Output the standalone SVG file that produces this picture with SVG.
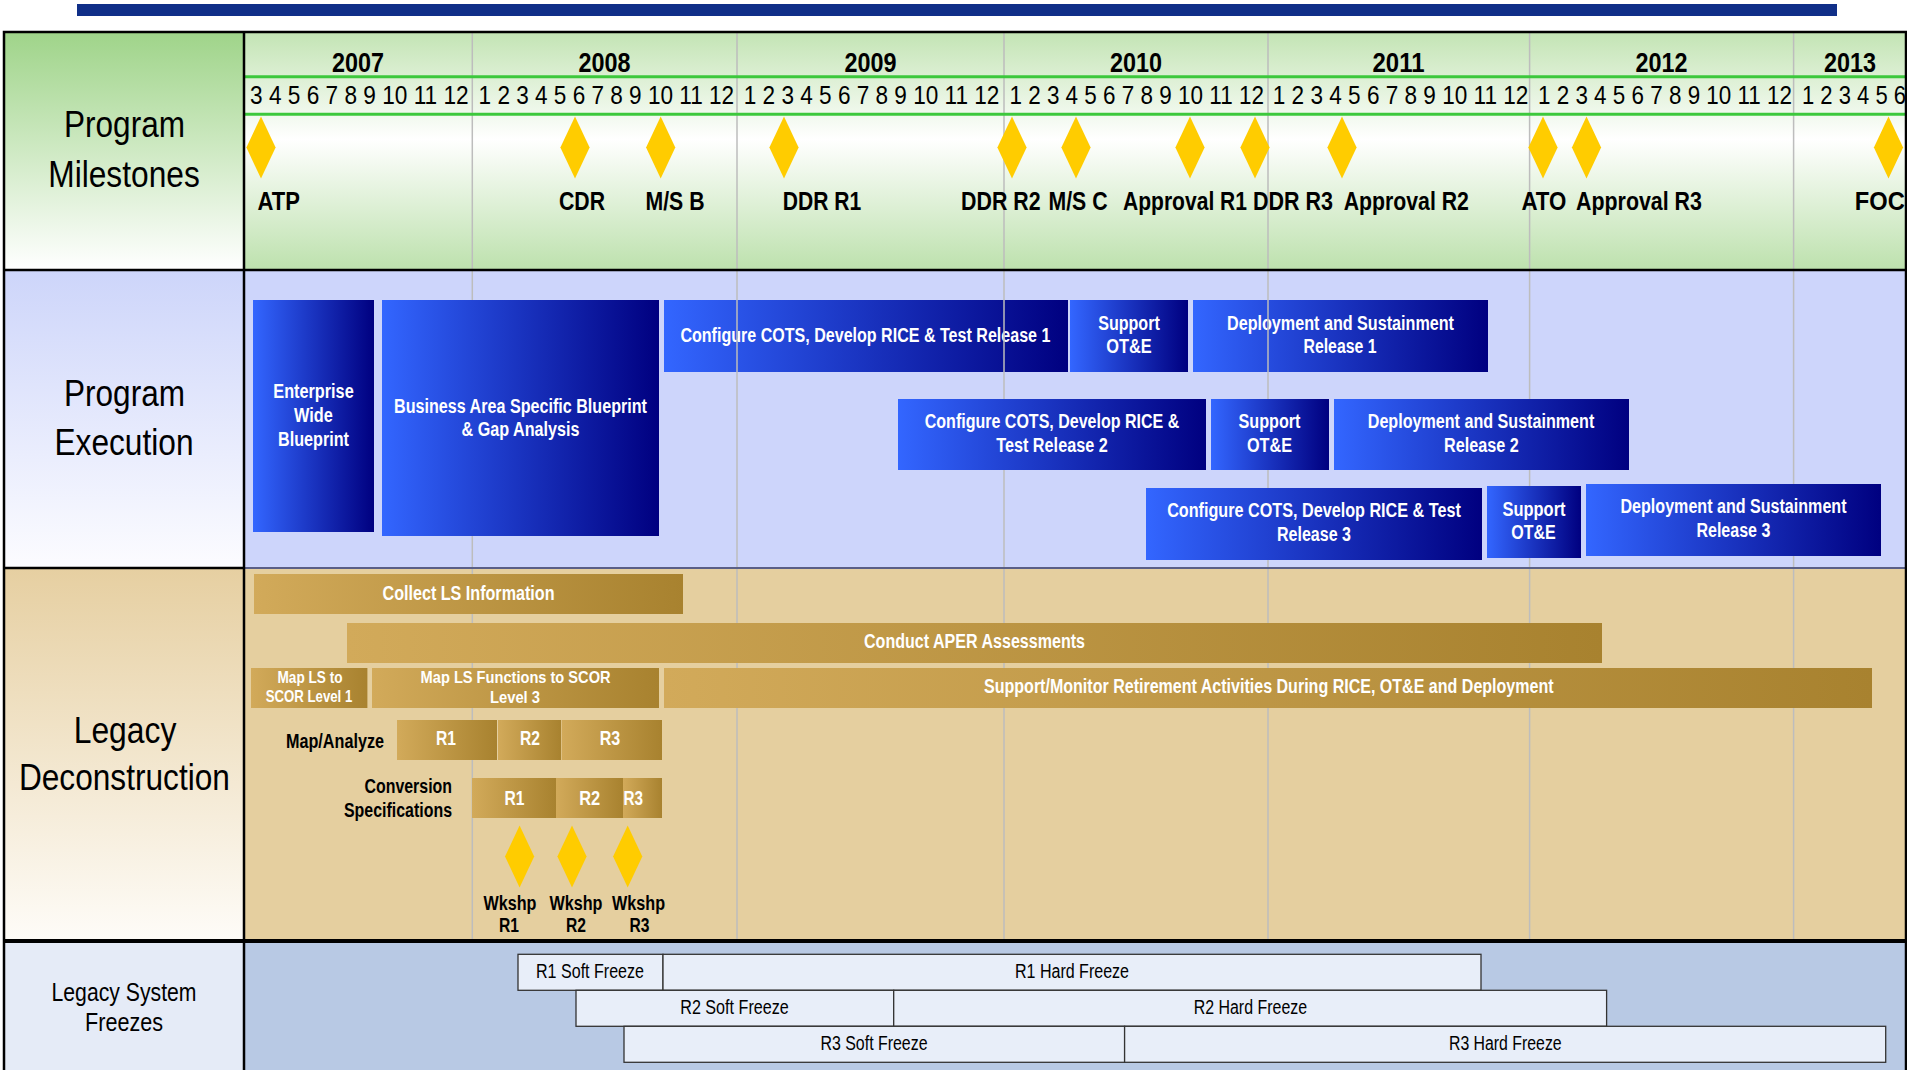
<svg xmlns="http://www.w3.org/2000/svg" width="1907" height="1070" viewBox="0 0 1907 1070">
<defs>
<linearGradient id="gBlue" x1="0" y1="0" x2="1" y2="0"><stop offset="0" stop-color="#3366ff"/><stop offset="1" stop-color="#000080"/></linearGradient>
<linearGradient id="gGold" x1="0" y1="0" x2="1" y2="0"><stop offset="0" stop-color="#d2aa5a"/><stop offset="1" stop-color="#a8822f"/></linearGradient>
<linearGradient id="gMsLab" x1="0" y1="0" x2="0" y2="1"><stop offset="0" stop-color="#9fd489"/><stop offset="1" stop-color="#ffffff"/></linearGradient>
<linearGradient id="gMsTime" x1="0" y1="0" x2="0" y2="1"><stop offset="0" stop-color="#c3e4b4"/><stop offset="0.45" stop-color="#ffffff"/><stop offset="1" stop-color="#bde1ad"/></linearGradient>
<linearGradient id="gExLab" x1="0" y1="0" x2="0" y2="1"><stop offset="0" stop-color="#cdd5fa"/><stop offset="1" stop-color="#fcfcff"/></linearGradient>
<linearGradient id="gLgLab" x1="0" y1="0" x2="0" y2="1"><stop offset="0" stop-color="#e6cfa1"/><stop offset="1" stop-color="#fefcf8"/></linearGradient>
<path id="dia" d="M0,-31 L14.6,0 L0,31 L-14.6,0 Z" fill="#ffcc00"/>
</defs>
<style>
text{font-family:"Liberation Sans Narrow","Arial Narrow","Liberation Sans",Arial,sans-serif;fill:#000}
.sec{font-size:37px;text-anchor:middle}
.sec2{font-size:26px;text-anchor:middle}
.yr{font-size:28.5px;font-weight:bold;text-anchor:middle}
.mo{font-size:26px}
.ms{font-size:25.5px;font-weight:bold;text-anchor:middle}
.bx{font-size:19.5px;font-weight:bold;fill:#fff;text-anchor:middle}
.sm{font-size:16.5px;font-weight:bold;fill:#fff;text-anchor:middle}
.lb{font-size:19.5px;font-weight:bold;text-anchor:end}
.lbc{font-size:19.5px;font-weight:bold;text-anchor:middle}
.fz{font-size:19.5px;text-anchor:middle}
.blue{fill:url(#gBlue)}
.gold{fill:url(#gGold)}
.frz{fill:#e8eef9;stroke:#333;stroke-width:1.3}
.grid{stroke:#bdbdbd;stroke-width:1.5}
</style>
<rect x="0" y="0" width="1907" height="1070" fill="#ffffff"/>
<rect id="topbar" x="77" y="4" width="1760" height="12" fill="#102f88"/>

<g id="backgrounds">
<rect x="4" y="32" width="240" height="238" fill="url(#gMsLab)"/>
<rect x="244" y="32" width="1662" height="238" fill="url(#gMsTime)"/>
<rect x="4" y="270" width="240" height="298" fill="url(#gExLab)"/>
<rect x="244" y="270" width="1662" height="298" fill="#cdd5fb"/>
<rect x="4" y="568" width="240" height="373" fill="url(#gLgLab)"/>
<rect x="244" y="568" width="1662" height="373" fill="#e5cf9f"/>
<rect x="4" y="941" width="240" height="129" fill="#e5ebf7"/>
<rect x="244" y="941" width="1662" height="129" fill="#b8c9e4"/>
</g>

<g id="grid-lines">
<line class="grid" x1="472.3" y1="32" x2="472.3" y2="941"/>
<line class="grid" x1="737" y1="32" x2="737" y2="941"/>
<line class="grid" x1="1004" y1="32" x2="1004" y2="941"/>
<line class="grid" x1="1268" y1="32" x2="1268" y2="941"/>
<line class="grid" x1="1529.6" y1="32" x2="1529.6" y2="941"/>
<line class="grid" x1="1793.6" y1="32" x2="1793.6" y2="941"/>
</g>

<g id="header">
<line x1="244" y1="76.7" x2="1906" y2="76.7" stroke="#3cc83c" stroke-width="3"/>
<line x1="244" y1="114.3" x2="1906" y2="114.3" stroke="#3cc83c" stroke-width="3"/>
<text class="yr" x="358" y="71.5" textLength="52" lengthAdjust="spacingAndGlyphs">2007</text>
<text class="yr" x="604.6" y="71.5" textLength="52" lengthAdjust="spacingAndGlyphs">2008</text>
<text class="yr" x="870.5" y="71.5" textLength="52" lengthAdjust="spacingAndGlyphs">2009</text>
<text class="yr" x="1136" y="71.5" textLength="52" lengthAdjust="spacingAndGlyphs">2010</text>
<text class="yr" x="1398.5" y="71.5" textLength="52" lengthAdjust="spacingAndGlyphs">2011</text>
<text class="yr" x="1661.5" y="71.5" textLength="52" lengthAdjust="spacingAndGlyphs">2012</text>
<text class="yr" x="1850" y="71.5" textLength="52" lengthAdjust="spacingAndGlyphs">2013</text>
<text class="mo" x="250" y="104" textLength="218.6" lengthAdjust="spacingAndGlyphs">3 4 5 6 7 8 9 10 11 12</text>
<text class="mo" x="478.6" y="104" textLength="255.5" lengthAdjust="spacingAndGlyphs">1 2 3 4 5 6 7 8 9 10 11 12</text>
<text class="mo" x="743.8" y="104" textLength="255.5" lengthAdjust="spacingAndGlyphs">1 2 3 4 5 6 7 8 9 10 11 12</text>
<text class="mo" x="1009.4" y="104" textLength="254.5" lengthAdjust="spacingAndGlyphs">1 2 3 4 5 6 7 8 9 10 11 12</text>
<text class="mo" x="1272.8" y="104" textLength="255.5" lengthAdjust="spacingAndGlyphs">1 2 3 4 5 6 7 8 9 10 11 12</text>
<text class="mo" x="1538" y="104" textLength="254" lengthAdjust="spacingAndGlyphs">1 2 3 4 5 6 7 8 9 10 11 12</text>
<text class="mo" x="1802" y="104" textLength="104" lengthAdjust="spacingAndGlyphs">1 2 3 4 5 6</text>
</g>

<g id="section-labels">
<text class="sec" x="124.5" y="137" textLength="121" lengthAdjust="spacingAndGlyphs">Program</text>
<text class="sec" x="124" y="187" textLength="151.5" lengthAdjust="spacingAndGlyphs">Milestones</text>
<text class="sec" x="124.5" y="406" textLength="121" lengthAdjust="spacingAndGlyphs">Program</text>
<text class="sec" x="124" y="455" textLength="139" lengthAdjust="spacingAndGlyphs">Execution</text>
<text class="sec" x="125" y="742.7" textLength="102.6" lengthAdjust="spacingAndGlyphs">Legacy</text>
<text class="sec" x="124.4" y="790" textLength="211" lengthAdjust="spacingAndGlyphs">Deconstruction</text>
<text class="sec2" x="124" y="1000.7" textLength="145" lengthAdjust="spacingAndGlyphs">Legacy System</text>
<text class="sec2" x="124" y="1030.7" textLength="78" lengthAdjust="spacingAndGlyphs">Freezes</text>
</g>

<g id="ms-atp"><use href="#dia" x="261" y="147.5"/><text class="ms" x="278.8" y="210" textLength="42.4" lengthAdjust="spacingAndGlyphs">ATP</text></g>
<g id="ms-cdr"><use href="#dia" x="575" y="147.5"/><text class="ms" x="582" y="210" textLength="46" lengthAdjust="spacingAndGlyphs">CDR</text></g>
<g id="ms-msb"><use href="#dia" x="660.7" y="147.5"/><text class="ms" x="675" y="210" textLength="59" lengthAdjust="spacingAndGlyphs">M/S B</text></g>
<g id="ms-ddr1"><use href="#dia" x="784" y="147.5"/><text class="ms" x="822" y="210" textLength="78.5" lengthAdjust="spacingAndGlyphs">DDR R1</text></g>
<g id="ms-ddr2"><use href="#dia" x="1012" y="147.5"/><text class="ms" x="1000.8" y="210" textLength="79.5" lengthAdjust="spacingAndGlyphs">DDR R2</text></g>
<g id="ms-msc"><use href="#dia" x="1076" y="147.5"/><text class="ms" x="1078" y="210" textLength="59" lengthAdjust="spacingAndGlyphs">M/S C</text></g>
<g id="ms-appr1"><use href="#dia" x="1190" y="147.5"/><text class="ms" x="1185" y="210" textLength="124" lengthAdjust="spacingAndGlyphs">Approval R1</text></g>
<g id="ms-ddr3"><use href="#dia" x="1255" y="147.5"/><text class="ms" x="1292.9" y="210" textLength="80" lengthAdjust="spacingAndGlyphs">DDR R3</text></g>
<g id="ms-appr2"><use href="#dia" x="1342" y="147.5"/><text class="ms" x="1406.3" y="210" textLength="125.3" lengthAdjust="spacingAndGlyphs">Approval R2</text></g>
<g id="ms-ato"><use href="#dia" x="1543" y="147.5"/><text class="ms" x="1543.9" y="210" textLength="45" lengthAdjust="spacingAndGlyphs">ATO</text></g>
<g id="ms-appr3"><use href="#dia" x="1586.5" y="147.5"/><text class="ms" x="1639" y="210" textLength="125.8" lengthAdjust="spacingAndGlyphs">Approval R3</text></g>
<g id="ms-foc"><use href="#dia" x="1888.5" y="147.5"/><text class="ms" x="1879.8" y="210" textLength="50" lengthAdjust="spacingAndGlyphs">FOC</text></g>

<g id="exec-ewb"><rect class="blue" x="253" y="300" width="121" height="232"/>
<text class="bx" x="313.5" y="397.7" textLength="80.4" lengthAdjust="spacingAndGlyphs">Enterprise</text>
<text class="bx" x="313.5" y="421.7" textLength="38.8" lengthAdjust="spacingAndGlyphs">Wide</text>
<text class="bx" x="313.5" y="445.7" textLength="71" lengthAdjust="spacingAndGlyphs">Blueprint</text></g>
<g id="exec-basb"><rect class="blue" x="382" y="300" width="277" height="236"/>
<text class="bx" x="520.5" y="412.7" textLength="253" lengthAdjust="spacingAndGlyphs">Business Area Specific Blueprint</text>
<text class="bx" x="520.5" y="435.7" textLength="118" lengthAdjust="spacingAndGlyphs">&amp; Gap Analysis</text></g>
<g id="exec-cfg1"><rect class="blue" x="664" y="300" width="404" height="72"/>
<text class="bx" x="865.4" y="341.7" textLength="370" lengthAdjust="spacingAndGlyphs">Configure COTS, Develop RICE &amp; Test Release 1</text></g>
<g id="exec-sup1"><rect class="blue" x="1070" y="300" width="118" height="72"/>
<text class="bx" x="1129" y="330" textLength="61.6" lengthAdjust="spacingAndGlyphs">Support</text>
<text class="bx" x="1129" y="353.3" textLength="45.5" lengthAdjust="spacingAndGlyphs">OT&amp;E</text></g>
<g id="exec-dep1"><rect class="blue" x="1193" y="300" width="295" height="72"/>
<text class="bx" x="1340.5" y="330" textLength="227" lengthAdjust="spacingAndGlyphs">Deployment and Sustainment</text>
<text class="bx" x="1340" y="353.3" textLength="73" lengthAdjust="spacingAndGlyphs">Release 1</text></g>
<g id="grid-over-row1">
<line class="grid" x1="737" y1="300" x2="737" y2="372"/>
<line class="grid" x1="1004" y1="300" x2="1004" y2="372"/>
<line class="grid" x1="1268" y1="300" x2="1268" y2="372"/>
</g>
<g id="exec-cfg2"><rect class="blue" x="898" y="399" width="308" height="71"/>
<text class="bx" x="1052" y="428.3" textLength="254.5" lengthAdjust="spacingAndGlyphs">Configure COTS, Develop RICE &amp;</text>
<text class="bx" x="1052" y="452.3" textLength="111.6" lengthAdjust="spacingAndGlyphs">Test Release 2</text></g>
<g id="exec-sup2"><rect class="blue" x="1211" y="399" width="118" height="71"/>
<text class="bx" x="1269.5" y="428.3" textLength="62" lengthAdjust="spacingAndGlyphs">Support</text>
<text class="bx" x="1269.5" y="452.3" textLength="45" lengthAdjust="spacingAndGlyphs">OT&amp;E</text></g>
<g id="exec-dep2"><rect class="blue" x="1334" y="399" width="295" height="71"/>
<text class="bx" x="1481" y="428.3" textLength="226.5" lengthAdjust="spacingAndGlyphs">Deployment and Sustainment</text>
<text class="bx" x="1481.3" y="452.3" textLength="74.7" lengthAdjust="spacingAndGlyphs">Release 2</text></g>
<g id="exec-cfg3"><rect class="blue" x="1146" y="488" width="336" height="72"/>
<text class="bx" x="1314" y="517.3" textLength="293.7" lengthAdjust="spacingAndGlyphs">Configure COTS, Develop RICE &amp; Test</text>
<text class="bx" x="1314" y="541.3" textLength="74" lengthAdjust="spacingAndGlyphs">Release 3</text></g>
<g id="exec-sup3"><rect class="blue" x="1487" y="486" width="94" height="72"/>
<text class="bx" x="1534" y="516" textLength="63" lengthAdjust="spacingAndGlyphs">Support</text>
<text class="bx" x="1533.5" y="538.7" textLength="44.5" lengthAdjust="spacingAndGlyphs">OT&amp;E</text></g>
<g id="exec-dep3"><rect class="blue" x="1586" y="484" width="295" height="72"/>
<text class="bx" x="1733.5" y="513.3" textLength="226" lengthAdjust="spacingAndGlyphs">Deployment and Sustainment</text>
<text class="bx" x="1733.4" y="536.7" textLength="74" lengthAdjust="spacingAndGlyphs">Release 3</text></g>

<g id="lg-collect"><rect class="gold" x="254" y="574" width="429" height="40"/>
<text class="bx" x="468.5" y="600" textLength="172" lengthAdjust="spacingAndGlyphs">Collect LS Information</text></g>
<g id="lg-aper"><rect class="gold" x="347" y="623" width="1255" height="40"/>
<text class="bx" x="974.5" y="648" textLength="221" lengthAdjust="spacingAndGlyphs">Conduct APER Assessments</text></g>
<g id="lg-map1"><rect class="gold" x="251" y="668" width="116.4" height="40"/>
<text class="sm" x="310" y="682.7" textLength="65" lengthAdjust="spacingAndGlyphs">Map LS to</text>
<text class="sm" x="309" y="702.3" textLength="86.6" lengthAdjust="spacingAndGlyphs">SCOR Level 1</text></g>
<g id="lg-map3"><rect class="gold" x="372" y="668" width="287" height="40"/>
<text class="sm" x="515.6" y="682.7" textLength="190" lengthAdjust="spacingAndGlyphs">Map LS Functions to SCOR</text>
<text class="sm" x="515" y="703.3" textLength="50" lengthAdjust="spacingAndGlyphs">Level 3</text></g>
<g id="lg-support"><rect class="gold" x="664" y="668" width="1208" height="40"/>
<text class="bx" x="1268.8" y="693.3" textLength="569.6" lengthAdjust="spacingAndGlyphs">Support/Monitor Retirement Activities During RICE, OT&amp;E and Deployment</text></g>

<g id="lg-mapanalyze">
<text class="lb" x="384" y="748" textLength="98" lengthAdjust="spacingAndGlyphs">Map/Analyze</text>
<rect class="gold" x="397" y="720" width="100" height="40"/>
<rect class="gold" x="498" y="720" width="63" height="40"/>
<rect class="gold" x="561.6" y="720" width="100.4" height="40"/>
<text class="bx" x="446" y="745" textLength="20" lengthAdjust="spacingAndGlyphs">R1</text>
<text class="bx" x="530" y="745" textLength="20" lengthAdjust="spacingAndGlyphs">R2</text>
<text class="bx" x="610" y="745" textLength="20.5" lengthAdjust="spacingAndGlyphs">R3</text>
</g>
<g id="lg-conversion">
<text class="lb" x="452" y="793.3" textLength="87.5" lengthAdjust="spacingAndGlyphs">Conversion</text>
<text class="lb" x="452" y="816.7" textLength="108" lengthAdjust="spacingAndGlyphs">Specifications</text>
<rect class="gold" x="472" y="778" width="84" height="40"/>
<rect class="gold" x="556" y="778" width="67" height="40"/>
<rect class="gold" x="623" y="778" width="39" height="40"/>
<text class="bx" x="514.5" y="805" textLength="20" lengthAdjust="spacingAndGlyphs">R1</text>
<text class="bx" x="589.7" y="805" textLength="21" lengthAdjust="spacingAndGlyphs">R2</text>
<text class="bx" x="633.3" y="805" textLength="19.5" lengthAdjust="spacingAndGlyphs">R3</text>
</g>
<g id="lg-wkshp1"><use href="#dia" x="519.6" y="856.5"/>
<text class="lbc" x="510" y="910" textLength="53" lengthAdjust="spacingAndGlyphs">Wkshp</text>
<text class="lbc" x="509" y="932.3" textLength="20" lengthAdjust="spacingAndGlyphs">R1</text></g>
<g id="lg-wkshp2"><use href="#dia" x="572" y="856.5"/>
<text class="lbc" x="576" y="910" textLength="53" lengthAdjust="spacingAndGlyphs">Wkshp</text>
<text class="lbc" x="576" y="932.3" textLength="20" lengthAdjust="spacingAndGlyphs">R2</text></g>
<g id="lg-wkshp3"><use href="#dia" x="627.7" y="856.5"/>
<text class="lbc" x="638.6" y="910" textLength="53" lengthAdjust="spacingAndGlyphs">Wkshp</text>
<text class="lbc" x="639.5" y="932.3" textLength="20" lengthAdjust="spacingAndGlyphs">R3</text></g>

<g id="fz-r1soft"><rect class="frz" x="518" y="954.3" width="145" height="36"/><text class="fz" x="590" y="978.3" textLength="108" lengthAdjust="spacingAndGlyphs">R1 Soft Freeze</text></g>
<g id="fz-r1hard"><rect class="frz" x="663" y="954.3" width="818" height="36"/><text class="fz" x="1072" y="978.3" textLength="114" lengthAdjust="spacingAndGlyphs">R1 Hard Freeze</text></g>
<g id="fz-r2soft"><rect class="frz" x="576" y="990.3" width="317.7" height="36"/><text class="fz" x="734.5" y="1014.3" textLength="108.5" lengthAdjust="spacingAndGlyphs">R2 Soft Freeze</text></g>
<g id="fz-r2hard"><rect class="frz" x="893.7" y="990.3" width="712.9" height="36"/><text class="fz" x="1250.4" y="1014.3" textLength="113.4" lengthAdjust="spacingAndGlyphs">R2 Hard Freeze</text></g>
<g id="fz-r3soft"><rect class="frz" x="624" y="1026.3" width="500.6" height="36"/><text class="fz" x="874" y="1049.8" textLength="107" lengthAdjust="spacingAndGlyphs">R3 Soft Freeze</text></g>
<g id="fz-r3hard"><rect class="frz" x="1124.6" y="1026.3" width="761.1" height="36"/><text class="fz" x="1505.3" y="1049.8" textLength="112.7" lengthAdjust="spacingAndGlyphs">R3 Hard Freeze</text></g>

<g id="borders" fill="none">
<line x1="244" y1="568" x2="1906" y2="568" stroke="#5a5f86" stroke-width="2"/>
<line x1="4" y1="568" x2="244" y2="568" stroke="#000" stroke-width="2.5"/>
<line x1="4" y1="270" x2="1906" y2="270" stroke="#000" stroke-width="2.5"/>
<line x1="4" y1="941" x2="1906" y2="941" stroke="#000" stroke-width="4"/>
<line x1="244" y1="32" x2="244" y2="1070" stroke="#000" stroke-width="2.5"/>
<rect x="4" y="32" width="1902" height="1045" stroke="#000" stroke-width="2.5"/>
</g>
</svg>
